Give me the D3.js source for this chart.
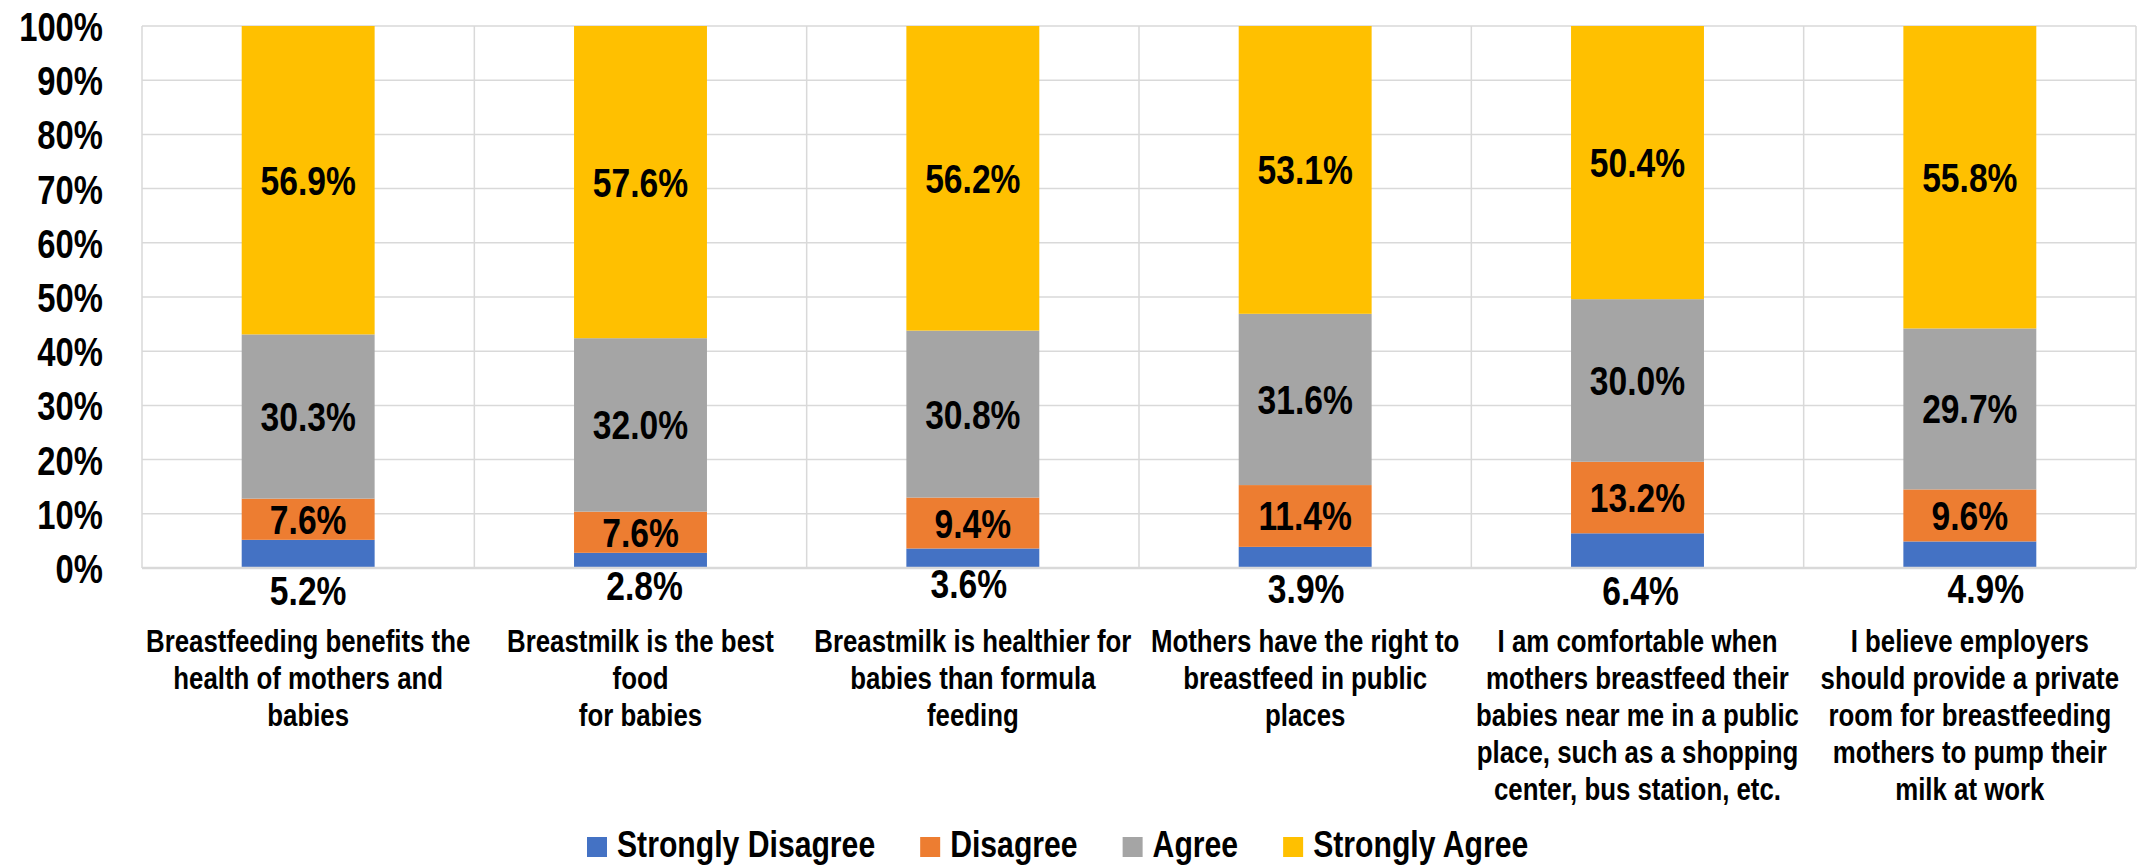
<!DOCTYPE html>
<html><head><meta charset="utf-8">
<script src="https://cdn.jsdelivr.net/npm/d3@7"></script>
<style>
html,body{margin:0;padding:0;background:#fff;}
svg text{font-family:"Liberation Sans Narrow","Arial Narrow","Liberation Sans",Arial,sans-serif;font-weight:bold;fill:#000;}
</style></head>
<body><svg id="chart" width="2148" height="868"></svg>
<script>
const categories = [
  ["Breastfeeding benefits the","health of mothers and","babies"],
  ["Breastmilk is the best","food","for babies"],
  ["Breastmilk is healthier for","babies than formula","feeding"],
  ["Mothers have the right to","breastfeed in public","places"],
  ["I am comfortable when","mothers breastfeed their","babies near me in a public","place, such as a shopping","center, bus station, etc."],
  ["I believe employers","should provide a private","room for breastfeeding","mothers to pump their","milk at work"]
];
const seriesNames = ["Strongly Disagree","Disagree","Agree","Strongly Agree"];
const stronglyDisagree = [5.2, 2.8, 3.6, 3.9, 6.4, 4.9];
const disagree = [7.6, 7.6, 9.4, 11.4, 13.2, 9.6];
const agree = [30.3, 32.0, 30.8, 31.6, 30.0, 29.7];
const stronglyAgree = [56.9, 57.6, 56.2, 53.1, 50.4, 55.8];
const yTicks = [0,10,20,30,40,50,60,70,80,90,100];
const colors = ["#4472C4","#ED7D31","#A5A5A5","#FFC000"];

(function(){
const SX = 0.82; // condensed (Arial Narrow-like) horizontal scale
// small manual nudges of the below-axis labels, as in the original
const nudge = [[0,2],[4,-3],[-4,-5],[1,0],[3,2],[16,0]];
const seriesValues = [stronglyDisagree, disagree, agree, stronglyAgree];
const rows = categories.map((c,i)=>{
  const r = {idx:i};
  seriesNames.forEach((s,j)=>{ r[s]=seriesValues[j][i]; });
  return r;
});

const svg = d3.select("#chart");
const pL = 142, pR = 2136, pT = 26, pB = 568;

const x = d3.scaleBand().domain(d3.range(categories.length)).range([pL,pR]).paddingInner(0.6).paddingOuter(0.3);
const xCat = d3.scaleBand().domain(d3.range(categories.length)).range([pL,pR]);
const y = d3.scaleLinear().domain([0,100]).range([pB,pT]);

const g = svg.append("g");
g.selectAll("line.h").data(yTicks.filter(t=>t>0)).join("line")
  .attr("x1",pL).attr("x2",pR).attr("y1",d=>y(d)).attr("y2",d=>y(d))
  .attr("stroke","#d9d9d9").attr("stroke-width",1.5);
const vb = d3.range(categories.length+1).map(i=> i<categories.length ? xCat(i) : pR);
g.selectAll("line.v").data(vb).join("line")
  .attr("x1",d=>d).attr("x2",d=>d).attr("y1",pT).attr("y2",pB)
  .attr("stroke","#d9d9d9").attr("stroke-width",1.5);

const yAxis = d3.axisLeft(y).tickValues(yTicks).tickFormat(d=>d+"%").tickSize(0).tickPadding(0);
const ya = svg.append("g").attr("transform",`translate(103,0)`).call(yAxis);
ya.select(".domain").remove();
ya.selectAll("text").attr("font-size",40).attr("dy","0.36em").attr("x",0)
  .attr("transform",`scale(${SX},1)`)
  .style("font-family",'"Liberation Sans Narrow","Arial Narrow","Liberation Sans",Arial,sans-serif').style("font-weight","bold");

const stack = d3.stack().keys(seriesNames)(rows);
svg.append("g").selectAll("g").data(stack).join("g")
  .attr("fill",(d,i)=>colors[i])
  .selectAll("rect").data(d=>d).join("rect")
  .attr("x",d=>x(d.data.idx)).attr("width",x.bandwidth())
  .attr("y",d=>y(d[1])).attr("height",d=>y(d[0])-y(d[1]));

svg.append("line").attr("x1",pL).attr("x2",pR).attr("y1",pB).attr("y2",pB)
  .attr("stroke","#d9d9d9").attr("stroke-width",2.5);

function ctext(parent, px, py, size, anchor){
  return parent.append("g").attr("transform",`translate(${px},${py}) scale(${SX},1)`)
    .append("text").attr("x",0).attr("y",0).attr("text-anchor",anchor||"middle").attr("font-size",size);
}

const lab = svg.append("g");
stack.forEach((s,si)=>{
  s.forEach(d=>{
    const v = d[1]-d[0];
    const i = d.data.idx;
    let cx = x(i)+x.bandwidth()/2, yy;
    if(si===0){ cx += nudge[i][0]; yy = y(0)+35+nudge[i][1]; }
    else { yy = y((d[0]+d[1])/2)+14.5; }
    ctext(lab, cx, yy, 41).text(v.toFixed(1)+"%");
  });
});

const cl = svg.append("g");
categories.forEach((lines,i)=>{
  const cx = xCat(i)+xCat.bandwidth()/2;
  const t = ctext(cl, cx, 652, 31.5);
  lines.forEach((ln,k)=>{
    t.append("tspan").attr("x",0).attr("dy",k===0?0:37).text(ln);
  });
});

const leg = svg.append("g");
let lx = 587;
seriesNames.forEach((s,i)=>{
  leg.append("rect").attr("x",lx).attr("y",837).attr("width",20).attr("height",20).attr("fill",colors[i]);
  const t = ctext(leg, lx+30, 857, 36.8, "start").text(s);
  const w = t.node().getComputedTextLength()*SX;
  lx += 30 + w + 45;
});
})();
</script></body></html>
